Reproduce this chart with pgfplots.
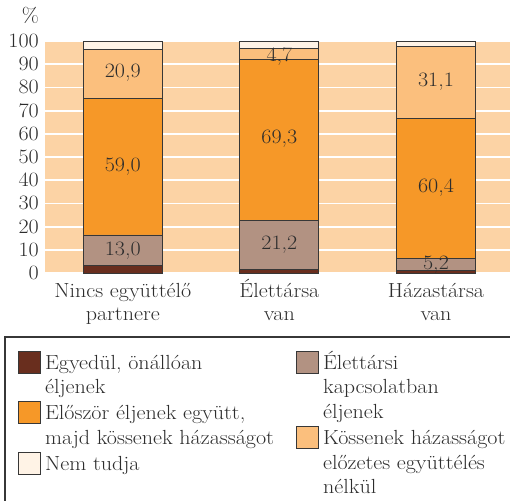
\documentclass[border=0pt]{standalone}
\usepackage{fontspec}
\setmainfont{Latin Modern Roman}[FakeStretch=1.08]
\usepackage{pgfplots}
\usepackage{pgfplotstable}
\pgfplotsset{compat=1.18}
\definecolor{cBrown}{RGB}{105,46,30}
\definecolor{cGrey}{RGB}{178,146,130}
\definecolor{cOrange}{RGB}{246,152,40}
\definecolor{cLight}{RGB}{251,191,125}
\definecolor{cNem}{RGB}{255,243,230}
\definecolor{cBg}{RGB}{252,211,165}
\definecolor{cEdge}{RGB}{55,55,55}
\definecolor{cText}{RGB}{45,45,45}
\newcommand{\chartfont}{\fontsize{20.5}{24.7}\selectfont}

% stacked shares (%), order: Nincs együttélő partnere, Élettársa van, Házastársa van
\pgfplotstableread{
x brown grey orange light nem
0 3.4 13.0 59.0 20.9 3.7
1 1.5 21.2 69.3 4.7 3.3
2 1.0 5.2 60.4 31.1 2.3
}\sharetable

% value labels placed at the middle of their segments
\pgfplotstableread{
x y lab
0 87.3 20,9
0 46.8 59,0
0 10.6 13,0
1 94.0 4,7
1 58.7 69,3
1 13.1 21,2
2 83.2 31,1
2 37.6 60,4
2 4.6 5,2
}\labeltable

\pgfplotsset{
  swatch/.style={legend image code/.code={\draw[fill=#1, draw=cEdge, line width=0.9bp] (0bp,-9bp) rectangle (22bp,13bp);}},
  common/.style={
    scale only axis, width=465bp, height=232bp,
    xmin=-0.4968, xmax=2.4726, ymin=0, ymax=100,
    clip=false,
  },
  mylegend/.style={
    legend cell align=left,
    legend style={draw=none, fill=none, at={(axis description cs:#1,-0.3263)}, anchor=north west,
      font=\chartfont, text=cText, row sep=0pt, column sep=4bp,
      cells={anchor=west},
      nodes={inner sep=0pt, text height=17.3bp, text depth=7.4bp}},
  },
  barstyle/.style={forget plot, fill=#1, draw=cEdge, line width=0.9bp},
}

\begin{document}
\begin{tikzpicture}
\begin{axis}[common,
  ybar stacked, bar width=79bp,
  /pgf/number format/assume math mode=true,
  axis background/.style={fill=cBg},
  axis line style={draw=none},
  major tick length=0pt,
  tick style={draw=none},
  ymajorgrids, grid style={white, line width=1.8bp},
  ytick={0,10,...,100},
  xtick={0,1,2},
  xticklabels={Nincs együttélő\\partnere, Élettársa\\van, Házastársa\\van},
  tick label style={text=cText},
  yticklabel style={font=\chartfont, anchor=east, inner sep=0pt, xshift=-6bp},
  xticklabel style={font=\fontsize{20.5}{23.5}\selectfont, align=center, anchor=base, inner sep=0pt, yshift=-47.5bp},
  mylegend=0.5333,
]
\addplot[barstyle=cBrown] table[x=x, y=brown] {\sharetable};
\addplot[barstyle=cGrey] table[x=x, y=grey] {\sharetable};
\addplot[barstyle=cOrange] table[x=x, y=orange] {\sharetable};
\addplot[barstyle=cLight] table[x=x, y=light] {\sharetable};
\addplot[barstyle=cNem] table[x=x, y=nem] {\sharetable};

\addlegendimage{swatch=cGrey}
\addlegendentry{Élettársi}
\addlegendimage{empty legend}
\addlegendentry{kapcsolatban}
\addlegendimage{empty legend}
\addlegendentry{éljenek}
\addlegendimage{swatch=cLight}
\addlegendentry{Kössenek házasságot}
\addlegendimage{empty legend}
\addlegendentry{előzetes együttélés}
\addlegendimage{empty legend}
\addlegendentry{nélkül}

\node[anchor=base east, font=\chartfont, text=cText, inner sep=0pt, xshift=-6bp] at (rel axis cs:0,1.0776) {\%};
\draw[cEdge, line width=1.3bp] (rel axis cs:-0.086,-0.2759) rectangle (rel axis cs:1.3,-1.5);
\end{axis}

\begin{axis}[common, hide axis, mylegend=-0.0645]
\addplot[forget plot, draw=none, mark=none,
  nodes near coords, point meta=explicit symbolic,
  nodes near coords align=center,
  every node near coord/.append style={font=\chartfont, text=cText, inner sep=0pt, text depth=0pt, anchor=center}]
  table[x=x, y=y, meta=lab] {\labeltable};

\addlegendimage{swatch=cBrown}
\addlegendentry{Egyedül, önállóan}
\addlegendimage{empty legend}
\addlegendentry{éljenek}
\addlegendimage{swatch=cOrange}
\addlegendentry{Először éljenek együtt,}
\addlegendimage{empty legend}
\addlegendentry{majd kössenek házasságot}
\addlegendimage{swatch=cNem}
\addlegendentry{Nem tudja}
\end{axis}

\pgfresetboundingbox
\path[use as bounding box] (-45bp,-228bp) rectangle (465bp,273bp);
\end{tikzpicture}
\end{document}
